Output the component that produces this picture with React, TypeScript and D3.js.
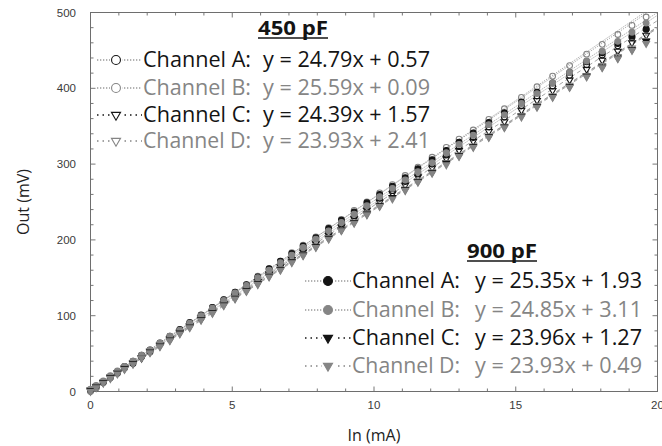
import React from "react";
import * as d3 from "d3";

const X = [0, 0.2, 0.45, 0.7, 0.95, 1.2, 1.5, 1.8, 2.1, 2.45, 2.8, 3.15, 3.5, 3.9, 4.3, 4.7, 5.1, 5.5, 5.9, 6.3, 6.7, 7.1, 7.5, 7.95, 8.4, 8.85, 9.3, 9.75, 10.2, 10.65, 11.1, 11.55, 12.05, 12.55, 13.0, 13.5, 14.05, 14.6, 15.2, 15.75, 16.3, 16.9, 17.5, 18.05, 18.6, 19.1, 19.6];

const A450 = [1, 5, 12, 18, 24, 31, 37, 46, 52, 62, 70, 79, 88, 97, 108, 117, 128, 137, 148, 157, 168, 177, 188, 198, 210, 221, 232, 243, 255, 265, 277, 287, 300, 312, 323, 335, 349, 362, 377, 390, 403, 417, 431, 444, 456, 467, 478];
const B450 = [0, 5, 12, 18, 25, 31, 39, 46, 54, 63, 72, 81, 90, 100, 111, 121, 131, 141, 152, 162, 172, 183, 193, 204, 216, 227, 239, 250, 262, 273, 285, 296, 309, 322, 333, 345, 359, 373, 388, 402, 416, 430, 445, 458, 471, 483, 494];
const C450 = [2, 6, 12, 19, 25, 31, 38, 45, 53, 61, 70, 78, 87, 97, 106, 116, 126, 135, 145, 155, 165, 174, 184, 195, 206, 217, 228, 239, 250, 261, 272, 283, 295, 307, 318, 330, 343, 356, 371, 384, 397, 411, 425, 437, 449, 460, 470];
const D450 = [2, 7, 13, 19, 25, 31, 38, 45, 53, 61, 69, 78, 86, 96, 105, 115, 124, 134, 143, 153, 162, 172, 181, 192, 203, 213, 224, 235, 246, 256, 267, 278, 290, 302, 312, 324, 337, 350, 364, 377, 390, 404, 417, 430, 442, 453, 463];
const A900 = [2, 7, 13, 20, 26, 33, 40, 48, 55, 64, 73, 82, 91, 101, 111, 121, 131, 141, 151, 162, 172, 182, 192, 203, 215, 226, 237, 249, 260, 271, 282, 294, 306, 318, 329, 341, 355, 368, 382, 395, 407, 421, 435, 447, 459, 469, 478];
const B900 = [3, 8, 14, 21, 27, 33, 40, 48, 55, 64, 73, 81, 90, 100, 110, 120, 130, 140, 150, 160, 170, 180, 190, 201, 212, 223, 234, 245, 257, 268, 279, 290, 302, 315, 326, 338, 352, 365, 380, 393, 407, 421, 436, 449, 462, 474, 486];
const C900 = [1, 6, 12, 18, 24, 30, 37, 44, 52, 60, 68, 77, 85, 95, 104, 114, 123, 133, 142, 152, 161, 171, 180, 191, 202, 213, 223, 234, 245, 256, 266, 277, 289, 301, 311, 323, 336, 349, 363, 376, 389, 402, 416, 428, 440, 451, 462];
const D900 = [0, 5, 11, 17, 23, 29, 36, 44, 51, 59, 67, 76, 84, 94, 103, 113, 122, 132, 141, 151, 160, 170, 179, 190, 201, 212, 222, 233, 244, 254, 265, 276, 288, 299, 310, 322, 335, 348, 362, 375, 388, 401, 415, 427, 439, 450, 459];

const CHANNELS = ["A", "B", "C", "D"];
const SLOPES_450 = [24.79, 25.59, 24.39, 23.93];
const INTERCEPTS_450 = [0.57, 0.09, 1.57, 2.41];
const SLOPES_900 = [25.35, 24.85, 23.96, 23.93];
const INTERCEPTS_900 = [1.93, 3.11, 1.27, 0.49];

const X_TICKS = [0, 5, 10, 15, 20];
const Y_TICKS = [0, 100, 200, 300, 400, 500];

const W = 662, H = 446;
const L = 90.5, R = 657.5, T = 12.5, B = 391.5;

const x = d3.scaleLinear().domain([0, 20]).range([L, R]);
const y = d3.scaleLinear().domain([0, 500]).range([B, T]);

const BLACK = "#141414";
const GRAY = "#858585";
const colors = [BLACK, GRAY, BLACK, GRAY];
const shapes = ["circle", "circle", "tri", "tri", "circle", "circle", "tri", "tri"];

type S = { ys: number[]; slope: number; intercept: number; color: string; filled: boolean; shape: string; dash: string };
const series: S[] = [A450, B450, C450, D450, A900, B900, C900, D900].map((ys, i) => {
  const k = i % 4;
  const is900 = i >= 4;
  return {
    ys,
    slope: is900 ? SLOPES_900[k] : SLOPES_450[k],
    intercept: is900 ? INTERCEPTS_900[k] : INTERCEPTS_450[k],
    color: colors[k],
    filled: is900,
    shape: shapes[i],
    dash: k < 2 ? "1.2,1.2" : "4,3",
  };
});

function markerPath(shape: string, size: number) {
  return d3.symbol().type(shape === "circle" ? d3.symbolCircle : d3.symbolTriangle).size(size)()!;
}

function Marker({ shape, cx, cy, color, filled, size }: any) {
  const rot = shape === "tri" ? ` rotate(180)` : "";
  return (
    <path
      d={markerPath(shape, size)}
      transform={`translate(${cx},${cy})${rot}`}
      fill={filled ? color : "none"}
      stroke={color}
      strokeWidth={1.1}
    />
  );
}

const FONT = "'Open Sans', 'Noto Sans', sans-serif";

function Legend({ title, titleX, titleY, lineX0, lineX1, markX, textX, eqX, rowYs, slopes, intercepts, filled }: any) {
  return (
    <g fontFamily={FONT}>
      <text x={titleX} y={titleY} fontSize={20} fontWeight="bold" fill={BLACK} textLength={70} lengthAdjust="spacingAndGlyphs">{title}</text>
      <line x1={titleX} x2={titleX + 70} y1={titleY + 3} y2={titleY + 3} stroke={BLACK} strokeWidth={1.5} />
      {CHANNELS.map((c, k) => {
        const cy = rowYs[k];
        const col = colors[k];
        return (
          <g key={c}>
            <line x1={lineX0} x2={lineX1} y1={cy - 7} y2={cy - 7} stroke={k < 2 ? "#9a9a9a" : col} strokeWidth={1.3} strokeDasharray={k < 2 ? "1.3,1.7" : "1.5,4"} />
            <rect x={markX - 6} y={cy - 13} width={12} height={12} fill="white" />
            <Marker shape={k < 2 ? "circle" : "tri"} cx={markX} cy={cy - 7} color={col} filled={filled} size={k < 2 ? 62 : 36} />
            <text x={textX} y={cy} fontSize={21} fill={col} textLength={108} lengthAdjust="spacingAndGlyphs">{`Channel ${c}:`}</text>
            <text x={eqX} y={cy} fontSize={21} fill={col} textLength={167} lengthAdjust="spacingAndGlyphs">{`y = ${slopes[k].toFixed(2)}x + ${intercepts[k].toFixed(2)}`}</text>
          </g>
        );
      })}
    </g>
  );
}

export default function App() {
  const xMinor = d3.range(0, 21, 1);
  const yMinor = d3.range(0, 501, 20);
  return (
    <svg width={W} height={H} style={{ position: "absolute", left: 0, top: 0, background: "white" }}>
      <defs>
        <clipPath id="plot">
          <rect x={L} y={T} width={R - L} height={B - T} />
        </clipPath>
      </defs>
      <rect x={0} y={0} width={W} height={H} fill="white" />
      <g stroke="#777" strokeWidth={1}>
        {xMinor.map((v) => {
          const major = v % 5 === 0;
          const len = major ? 5 : 3;
          return (
            <g key={"x" + v}>
              <line x1={x(v)} x2={x(v)} y1={B} y2={B - len} />
              <line x1={x(v)} x2={x(v)} y1={T} y2={T + len} />
            </g>
          );
        })}
        {yMinor.map((v) => {
          const major = v % 100 === 0;
          const len = major ? 5 : 3;
          return (
            <g key={"y" + v}>
              <line x1={L} x2={L + len} y1={y(v)} y2={y(v)} />
              <line x1={R} x2={R - len} y1={y(v)} y2={y(v)} />
            </g>
          );
        })}
      </g>
      <rect x={L} y={T} width={R - L} height={B - T} fill="none" stroke="#6e6e6e" strokeWidth={1} />
      <g fontFamily="'Liberation Sans', Arial, sans-serif" fontSize={11.5} fill="#3a3a3a">
        {X_TICKS.map((v) => (
          <text key={v} x={x(v)} y={409} textAnchor="middle">{v}</text>
        ))}
        {Y_TICKS.map((v) => (
          <text key={v} x={76} y={y(v) + 4} textAnchor="end">{v}</text>
        ))}
      </g>
      <text x={(L + R) / 2} y={441} textAnchor="middle" fontFamily={FONT} fontSize={16} fill="#222">In (mA)</text>
      <text transform={`translate(29,${(T + B) / 2}) rotate(-90)`} textAnchor="middle" fontFamily={FONT} fontSize={16} fill="#222">Out (mV)</text>
      <g clipPath="url(#plot)">
        {series.map((s, i) => (
          <line
            key={"f" + i}
            x1={x(0)}
            y1={y(s.intercept)}
            x2={x(20)}
            y2={y(s.slope * 20 + s.intercept)}
            stroke="#9a9a9a"
            strokeWidth={0.9}
            strokeDasharray={s.dash}
          />
        ))}
      </g>
      {series.map((s, i) => (
        <g key={"s" + i}>
          {X.map((xv, j) => (
            <Marker key={j} shape={s.shape} cx={x(xv)} cy={y(s.ys[j])} color={s.color} filled={s.filled} size={s.shape === "circle" ? 26 : 20} />
          ))}
        </g>
      ))}
      <Legend title="450 pF" titleX={258} titleY={35} lineX0={97} lineX1={142} markX={116} textX={143} eqX={263} rowYs={[67, 95, 122, 148]} slopes={SLOPES_450} intercepts={INTERCEPTS_450} filled={false} />
      <Legend title="900 pF" titleX={467} titleY={258} lineX0={305} lineX1={351} markX={328} textX={352} eqX={475} rowYs={[288, 317, 345, 373]} slopes={SLOPES_900} intercepts={INTERCEPTS_900} filled={true} />
    </svg>
  );
}
